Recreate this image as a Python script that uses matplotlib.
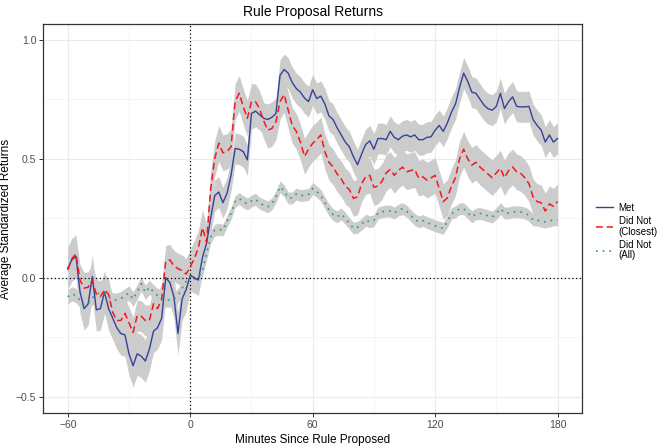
"""Rule proposal returns: event-study lines with confidence ribbons."""

import matplotlib

matplotlib.use("Agg")
import matplotlib.pyplot as plt
import numpy as np

plt.rcParams["font.family"] = ["Liberation Sans", "DejaVu Sans"]

# minutes relative to the rule proposal, 2-minute grid
minutes = list(range(-60, 181, 2))

met = [
    0.04, 0.075, 0.09, -0.06, -0.13, -0.11, 0.005, -0.135, -0.13, -0.06,
    -0.13, -0.17, -0.21, -0.235, -0.24, -0.32, -0.37, -0.32, -0.33, -0.35,
    -0.30, -0.225, -0.21, -0.17, 0.0, -0.02, -0.08, -0.234, -0.09, -0.05,
    0.01, 0.0, -0.01, 0.085, 0.144, 0.25, 0.345, 0.36, 0.315, 0.354,
    0.43, 0.543, 0.54, 0.53, 0.495, 0.69, 0.70, 0.685, 0.67, 0.665,
    0.674, 0.69, 0.85, 0.875, 0.86, 0.82, 0.795, 0.78, 0.755, 0.74,
    0.79, 0.753, 0.763, 0.73, 0.68, 0.665, 0.63, 0.60, 0.57, 0.55,
    0.508, 0.475, 0.52, 0.56, 0.575, 0.54, 0.585, 0.585, 0.58, 0.615,
    0.59, 0.58, 0.595, 0.60, 0.592, 0.60, 0.58, 0.58, 0.59, 0.592,
    0.62, 0.64, 0.615, 0.65, 0.695, 0.73, 0.80, 0.86, 0.825, 0.78,
    0.775, 0.75, 0.725, 0.71, 0.704, 0.72, 0.775, 0.711, 0.74, 0.76,
    0.72, 0.718, 0.718, 0.72, 0.665, 0.64, 0.62, 0.57, 0.60, 0.57,
    0.585,
]

closest = [
    0.032, 0.08, 0.10, -0.01, -0.044, -0.04, -0.01, -0.07, -0.08, -0.05,
    -0.07, -0.145, -0.18, -0.18, -0.15, -0.19, -0.23, -0.16, -0.162, -0.18,
    -0.18, -0.11, -0.13, -0.09, 0.07, 0.075, 0.05, 0.038, 0.03, 0.015,
    0.045, 0.08, 0.125, 0.21, 0.15, 0.37, 0.50, 0.565, 0.525, 0.53,
    0.55, 0.74, 0.775, 0.718, 0.67, 0.74, 0.74, 0.71, 0.66, 0.62,
    0.627, 0.655, 0.74, 0.77, 0.705, 0.64, 0.615, 0.57, 0.51, 0.54,
    0.565, 0.58, 0.60, 0.53, 0.485, 0.466, 0.436, 0.415, 0.385, 0.37,
    0.333, 0.34, 0.395, 0.425, 0.43, 0.38, 0.385, 0.405, 0.44, 0.455,
    0.43, 0.45, 0.465, 0.445, 0.45, 0.455, 0.418, 0.424, 0.41, 0.42,
    0.43, 0.375, 0.32, 0.335, 0.385, 0.42, 0.50, 0.54, 0.50, 0.473,
    0.485, 0.465, 0.45, 0.435, 0.42, 0.44, 0.46, 0.42, 0.45, 0.465,
    0.445, 0.438, 0.42, 0.395, 0.34, 0.32, 0.315, 0.28, 0.31, 0.30,
    0.32,
]

all_firms = [
    -0.08, -0.068, -0.075, -0.095, -0.115, -0.108, -0.085, -0.07, -0.063, -0.065,
    -0.082, -0.094, -0.094, -0.088, -0.075, -0.065, -0.09, -0.06, -0.026, -0.062,
    -0.04, -0.06, -0.075, -0.08, -0.094, -0.094, -0.09, -0.075, -0.045, -0.015,
    0.004, -0.01, 0.0, 0.03, 0.10, 0.17, 0.20, 0.203, 0.20, 0.237,
    0.27, 0.32, 0.333, 0.319, 0.31, 0.322, 0.33, 0.313, 0.305, 0.298,
    0.31, 0.34, 0.382, 0.365, 0.335, 0.335, 0.352, 0.345, 0.347, 0.35,
    0.375, 0.362, 0.345, 0.315, 0.285, 0.265, 0.256, 0.268, 0.25, 0.228,
    0.208, 0.212, 0.225, 0.242, 0.235, 0.24, 0.272, 0.277, 0.28, 0.28,
    0.272, 0.284, 0.29, 0.28, 0.262, 0.245, 0.235, 0.24, 0.232, 0.225,
    0.218, 0.213, 0.207, 0.235, 0.27, 0.277, 0.29, 0.29, 0.273, 0.256,
    0.268, 0.27, 0.265, 0.26, 0.255, 0.27, 0.29, 0.272, 0.272, 0.277,
    0.277, 0.276, 0.272, 0.262, 0.243, 0.242, 0.237, 0.235, 0.238, 0.243,
    0.243,
]

# ribbon half-widths (before, after the proposal)
met_se = (0.09, 0.065)
closest_se = (0.065, 0.075)
all_se = (0.03, 0.025)

labels = ["Met", "Did Not\n(Closest)", "Did Not\n(All)"]
colors = ["#34429A", "#F8161B", "#1F9E7A"]


def main() -> None:
    t = np.array(minutes)
    fig = plt.figure(figsize=(6.61, 4.47), dpi=100)
    ax = fig.add_axes([0.0655, 0.0754, 0.815, 0.8702])

    series = [
        (met, met_se, "-", 1.0),
        (closest, closest_se, (0, (4.5, 2.5)), 1.1),
        (all_firms, all_se, (0, (1, 3)), 1.2),
    ]
    for vals, se, _, _ in series:
        v = np.array(vals)
        half = np.where(t < 0, se[0], se[1])
        ax.fill_between(t, v - half, v + half, color="#CCCCCC", lw=0, zorder=1)

    for (vals, _, ls, lw), lab, col in zip(series, labels, colors):
        ax.plot(t, vals, color=col, ls=ls, lw=lw, label=lab, zorder=3)

    ax.axvline(0, color="black", ls=(0, (1, 2)), lw=0.9, zorder=2)
    ax.axhline(0, color="black", ls=(0, (1, 2)), lw=0.9, zorder=2)

    ax.set_xlim(-72, 192)
    ax.set_ylim(-0.57, 1.065)
    ax.set_xticks([-60, 0, 60, 120, 180])
    ax.set_xticks([-30, 30, 90, 150], minor=True)
    ax.set_yticks([-0.5, 0.0, 0.5, 1.0])
    ax.set_yticklabels(["\u22120.5", "0.0", "0.5", "1.0"])
    ax.set_xticklabels(["\u221260", "0", "60", "120", "180"])
    ax.set_yticks([-0.25, 0.25, 0.75], minor=True)
    ax.grid(which="major", color="#EBEBEB", lw=0.8, zorder=0)
    ax.grid(which="minor", color="#F2F2F2", lw=0.5, zorder=0)
    ax.set_axisbelow(True)
    ax.tick_params(which="major", length=3, width=0.7, color="#333333",
                   labelsize=7.5, labelcolor="#4D4D4D", pad=2)
    ax.tick_params(which="minor", length=0)
    for sp in ax.spines.values():
        sp.set_color("#333333")
        sp.set_linewidth(0.9)

    ax.set_title("Rule Proposal Returns", fontsize=10, pad=6)
    ax.set_xlabel("Minutes Since Rule Proposed", fontsize=8.5, labelpad=3)
    ax.set_ylabel("Average Standardized Returns", fontsize=8.5)
    ax.yaxis.set_label_coords(-0.058, 0.5)

    leg = ax.legend(loc="center left", bbox_to_anchor=(1.01, 0.467), frameon=False,
                    fontsize=7, handlelength=1.7, handletextpad=0.6,
                    labelspacing=0.35)
    for txt in leg.get_texts():
        txt.set_linespacing(1.05)

    fig.savefig("out.png", dpi=100)


if __name__ == "__main__":
    main()
